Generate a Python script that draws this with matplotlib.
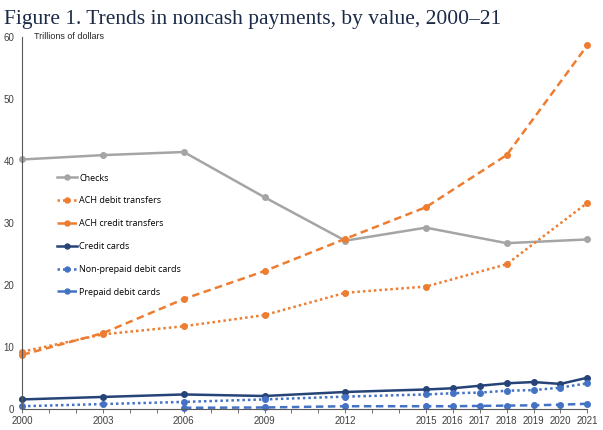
# Trends in noncash payments by value, 2000-21
import matplotlib
matplotlib.use('Agg')
import matplotlib.pyplot as plt
from matplotlib.ticker import FixedLocator

# survey years for checks and ACH
years_ach = [2000, 2003, 2006, 2009, 2012, 2015, 2018, 2021]
checks = [40.2, 40.9, 41.4, 34.1, 27.1, 29.2, 26.7, 27.3]
ach_debit = [9.2, 12.0, 13.3, 15.1, 18.7, 19.7, 23.3, 33.2]
ach_credit = [8.7, 12.2, 17.7, 22.2, 27.4, 32.5, 40.9, 58.6]

# card series (yearly after 2015)
years_cards = [2000, 2003, 2006, 2009, 2012, 2015, 2016, 2017, 2018, 2019, 2020, 2021]
credit_cards = [1.5, 1.9, 2.3, 2.05, 2.7, 3.1, 3.3, 3.7, 4.1, 4.3, 4.0, 5.0]
nonprepaid_debit = [0.4, 0.75, 1.1, 1.5, 1.95, 2.3, 2.5, 2.6, 2.9, 3.0, 3.4, 4.1]

years_prepaid = [2006, 2009, 2012, 2015, 2016, 2017, 2018, 2019, 2020, 2021]
prepaid_debit = [0.15, 0.2, 0.4, 0.4, 0.4, 0.45, 0.5, 0.55, 0.65, 0.8]

tick_years = [2000, 2003, 2006, 2009, 2012, 2015, 2016, 2017, 2018, 2019, 2020, 2021]
y_ticks = [0, 10, 20, 30, 40, 50, 60]

grey = '#A5A5A5'
orange = '#ED7D31'
navy = '#264478'
blue = '#4472C4'

fig = plt.figure(figsize=(6.03, 4.30), dpi=100)
ax = fig.add_axes([0.0373, 0.0495, 0.9367, 0.8652])

lw = 1.8
ms = 4.0
ax.plot(years_ach, checks, color=grey, lw=lw, marker='o', ms=ms, label='Checks', clip_on=False)
ax.plot(years_ach, ach_debit, color=orange, lw=lw, ls=(0, (1, 1.2)), marker='o', ms=ms,
        label='ACH debit transfers', clip_on=False)
ax.plot(years_ach, ach_credit, color=orange, lw=lw, ls=(0, (3, 1.8)), marker='o', ms=ms,
        label='ACH credit transfers', clip_on=False)
ax.plot(years_cards, credit_cards, color=navy, lw=lw, marker='o', ms=ms,
        label='Credit cards', clip_on=False)
ax.plot(years_cards, nonprepaid_debit, color=blue, lw=lw, ls=(0, (1, 1.2)), marker='o', ms=ms,
        label='Non-prepaid debit cards', clip_on=False)
ax.plot(years_prepaid, prepaid_debit, color=blue, lw=lw, ls=(0, (3, 1.8)), marker='o', ms=ms,
        label='Prepaid debit cards', clip_on=False)

ax.set_xlim(2000, 2021)
ax.set_ylim(0, 60)
ax.xaxis.set_major_locator(FixedLocator(tick_years))
ax.xaxis.set_minor_locator(FixedLocator(list(range(2000, 2022))))
ax.set_xticklabels([str(y) for y in tick_years])
ax.set_yticks(y_ticks)

for s in ['top', 'right']:
    ax.spines[s].set_visible(False)
for s in ['left', 'bottom']:
    ax.spines[s].set_color('#595959')
    ax.spines[s].set_linewidth(0.8)

ax.tick_params(axis='x', which='both', direction='out', length=3, width=0.6, color='#595959',
               labelsize=7, labelcolor='#404040', pad=2)
ax.tick_params(axis='y', direction='out', length=0, labelsize=7, labelcolor='#404040', pad=6)
for lab in ax.get_xticklabels() + ax.get_yticklabels():
    lab.set_family('Liberation Sans')

ax.text(0.02, 1.0, 'Trillions of dollars', transform=ax.transAxes, fontsize=6.5,
        family='Liberation Sans', color='#262626', va='center', ha='left')

ax.legend(loc='upper left', bbox_to_anchor=(0.0606, 0.632), frameon=False,
          prop={'family': 'Open Sans', 'size': 6.5}, handlelength=2.3, handletextpad=0.2,
          labelspacing=1.53, borderpad=0, borderaxespad=0, markerscale=0.9)

fig.text(0.007, 0.955, 'Figure 1. Trends in noncash payments, by value, 2000\u201321',
         fontsize=15.5, family='Liberation Serif', color='#1B2A47', va='center', ha='left')

plt.savefig('out.png', dpi=100)
